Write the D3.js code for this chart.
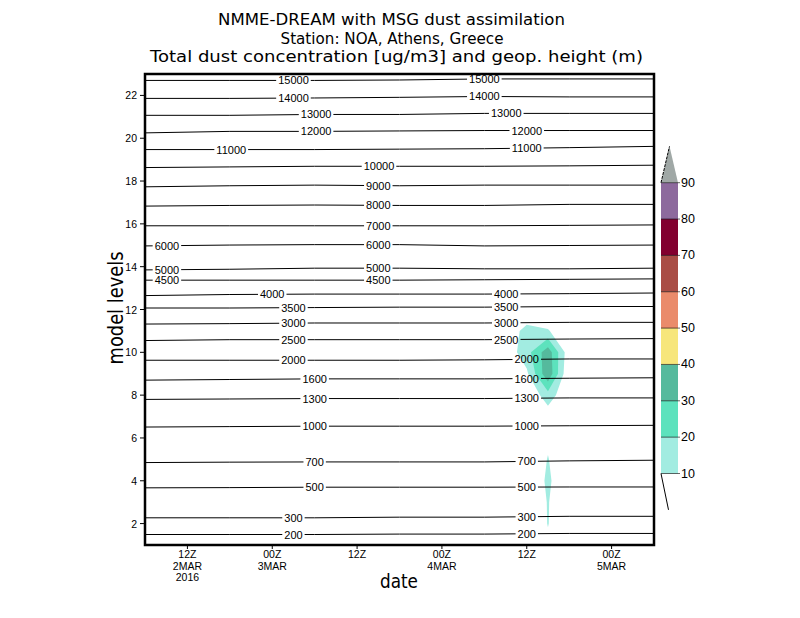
<!DOCTYPE html>
<html lang="en">
<head>
  <meta charset="UTF-8">
  <title>NMME-DREAM dust cross-section, Athens</title>
  <script src="https://d3js.org/d3.v7.min.js"></script>
  <style>
    body { margin: 0; background: white; }
    svg { display: block; font-family: "Liberation Sans", sans-serif; }
  </style>
</head>
<body>
  <svg id="chart" width="800" height="618"></svg>

  <script>
    // ---- data ----
    const titleLines = [
      "NMME-DREAM with MSG dust assimilation",
      "Station: NOA, Athens, Greece",
      "Total dust concentration [ug/m3] and geop. height (m)"
    ];

    // hours after 06Z 2 MAR 2016
    const tickHours = [6, 18, 30, 42, 54, 66];
    const tickLabels = [["12Z", "2MAR", "2016"], ["00Z", "3MAR"], ["12Z"], ["00Z", "4MAR"], ["12Z"], ["00Z", "5MAR"]];
    const levelTicks = [2, 4, 6, 8, 10, 12, 14, 16, 18, 20, 22];

    // geopotential height contours: model level of each contour at sampleHours
    const sampleHours = [0, 12, 24, 36, 48, 60, 72];
    const heightValues = [15000, 14000, 13000, 12000, 11000, 10000, 9000, 8000, 7000, 6000, 5000, 4500,
                          4000, 3500, 3000, 2500, 2000, 1600, 1300, 1000, 700, 500, 300, 200];
    const heightLevels = [
      [22.70, 22.70, 22.70, 22.72, 22.77, 22.77, 22.77],
      [21.86, 21.86, 21.88, 21.91, 21.95, 21.93, 21.93],
      [21.07, 21.07, 21.11, 21.11, 21.16, 21.16, 21.16],
      [20.25, 20.32, 20.32, 20.34, 20.36, 20.36, 20.36],
      [19.47, 19.47, 19.47, 19.49, 19.51, 19.56, 19.62],
      [18.63, 18.66, 18.69, 18.69, 18.69, 18.71, 18.74],
      [17.73, 17.78, 17.81, 17.78, 17.81, 17.81, 17.81],
      [16.83, 16.86, 16.88, 16.86, 16.86, 16.91, 16.91],
      [15.91, 15.91, 15.91, 15.91, 15.91, 15.93, 15.95],
      [14.97, 15.01, 15.03, 15.03, 14.97, 14.99, 15.01],
      [13.85, 13.88, 13.93, 13.93, 13.90, 13.90, 13.93],
      [13.37, 13.37, 13.37, 13.37, 13.39, 13.41, 13.43],
      [12.65, 12.70, 12.72, 12.72, 12.72, 12.74, 12.77],
      [12.07, 12.07, 12.09, 12.11, 12.11, 12.14, 12.14],
      [11.32, 11.34, 11.37, 11.37, 11.37, 11.40, 11.40],
      [10.55, 10.59, 10.59, 10.59, 10.59, 10.62, 10.64],
      [9.63, 9.63, 9.63, 9.63, 9.65, 9.69, 9.69],
      [8.70, 8.73, 8.76, 8.76, 8.76, 8.79, 8.81],
      [7.80, 7.82, 7.84, 7.84, 7.84, 7.87, 7.87],
      [6.51, 6.53, 6.55, 6.55, 6.55, 6.57, 6.59],
      [4.85, 4.87, 4.88, 4.88, 4.88, 4.93, 4.96],
      [3.67, 3.68, 3.70, 3.70, 3.70, 3.71, 3.71],
      [2.27, 2.27, 2.27, 2.30, 2.30, 2.34, 2.34],
      [1.49, 1.49, 1.49, 1.51, 1.51, 1.54, 1.54]
    ];
    // where the contour labels sit (hours)
    const heightLabelHours = [
      [21, 48], [21, 48], [24.2, 51.1], [24.2, 54], [12.2, 54], [33.1], [33], [33], [33],
      [3.1, 33], [3.1, 33], [3.1, 33], [18, 51.1], [21, 51.1], [21, 51.1], [21, 51.1],
      [21, 54], [24, 54], [24, 54], [24, 54], [24, 54], [24, 54], [21, 54], [21, 54]
    ];

    // dust concentration (ug/m3) on a 3-hourly grid, rows = model levels 1..13
    const dustHours = [48, 51, 54, 57, 60, 63];
    const dustLevels = [1, 2, 3, 4, 5, 6, 7, 8, 9, 10, 11, 12, 13];
    const dustValues = [
      [0, 0, 0, 8, 0, 0],
      [0, 0, 0, 10.4, 0, 0],
      [0, 0, 0, 10.6, 0, 0],
      [0, 0, 0, 12, 0, 0],
      [0, 0, 0, 10.5, 0, 0],
      [0, 0, 0, 8, 0, 0],
      [0, 0, 0, 4, 0, 0],
      [0, 0, 0, 16, 0, 0],
      [0, 0, 8, 38, 0, 0],
      [0, 3, 16, 36, 3, 0],
      [0, 2, 14, 11, 0, 0],
      [0, 0, 0, 0, 0, 0],
      [0, 0, 0, 0, 0, 0]
    ];
    const dustThresholds = [10, 20, 30, 40, 50, 60, 70, 80, 90];
    const dustColors = ["#a2ece1", "#5de2bd", "#55ba9d", "#f7e67b", "#ea8b6b", "#a94d45", "#82002f", "#8d6a9d", "#a0a8a6"];

    // ---- layout ----
    const svg = d3.select("#chart");
    const plot = { left: 145, right: 654, top: 74, bottom: 545 };

    const x = d3.scaleLinear().domain([0, 72]).range([plot.left, plot.right]);
    const y = d3.scaleLinear().domain([1, 23]).range([plot.bottom, plot.top]);

    // clip everything inside the frame
    svg.append("clipPath").attr("id", "plotClip")
      .append("rect")
      .attr("x", plot.left).attr("y", plot.top)
      .attr("width", plot.right - plot.left).attr("height", plot.bottom - plot.top);

    // ---- dust shading (d3.contours on the grid) ----
    const nx = dustHours.length, ny = dustLevels.length;
    const gridHour = d3.scaleLinear().domain([0.5, nx - 0.5]).range([dustHours[0], dustHours[nx - 1]]);
    const gridLevel = d3.scaleLinear().domain([0.5, ny - 0.5]).range([dustLevels[0], dustLevels[ny - 1]]);
    const gridToScreen = d3.geoTransform({
      point(px, py) { this.stream.point(x(gridHour(px)), y(gridLevel(py))); }
    });
    const dustPath = d3.geoPath(gridToScreen);
    const dustBands = d3.contours().size([nx, ny]).thresholds(dustThresholds)(dustValues.flat());

    svg.append("g").attr("clip-path", "url(#plotClip)")
      .selectAll("path")
      .data(dustBands)
      .join("path")
      .attr("d", dustPath)
      .attr("fill", (d, i) => dustColors[i])
      .attr("stroke", "none");

    // ---- geopotential height contours with labels ----
    const mask = svg.append("mask").attr("id", "labelGaps");
    mask.append("rect").attr("x", 0).attr("y", 0).attr("width", 800).attr("height", 618).attr("fill", "white");

    const contourLine = d3.line()
      .x((d, i) => x(sampleHours[i]))
      .y(d => y(d));

    svg.append("g")
      .attr("clip-path", "url(#plotClip)")
      .append("g")
      .attr("mask", "url(#labelGaps)")
      .selectAll("path")
      .data(heightLevels)
      .join("path")
      .attr("d", contourLine)
      .attr("fill", "none")
      .attr("stroke", "black")
      .attr("stroke-width", 1);

    const levelAt = (levels, h) => d3.scaleLinear().domain(sampleHours).range(levels)(h);
    const labelData = [];
    heightValues.forEach((v, k) => {
      heightLabelHours[k].forEach(h => labelData.push({ text: String(v), h, lev: levelAt(heightLevels[k], h) }));
    });

    const labels = svg.append("g")
      .selectAll("text")
      .data(labelData)
      .join("text")
      .attr("x", d => x(d.h))
      .attr("y", d => y(d.lev))
      .attr("text-anchor", "middle")
      .attr("dominant-baseline", "central")
      .attr("font-size", 11)
      .text(d => d.text);

    labels.each(function (d) {
      const w = this.getComputedTextLength();
      mask.append("rect")
        .attr("x", x(d.h) - w / 2 - 2)
        .attr("y", y(d.lev) - 5)
        .attr("width", w + 4)
        .attr("height", 10)
        .attr("fill", "black");
    });

    // ---- axes ----
    const yTicks = svg.append("g");
    yTicks.selectAll("line").data(levelTicks).join("line")
      .attr("x1", plot.left - 5).attr("x2", plot.left)
      .attr("y1", d => y(d)).attr("y2", d => y(d))
      .attr("stroke", "black").attr("stroke-width", 1);
    yTicks.selectAll("text").data(levelTicks).join("text")
      .attr("x", plot.left - 8)
      .attr("y", d => y(d))
      .attr("text-anchor", "end")
      .attr("dominant-baseline", "central")
      .attr("font-size", 10.5)
      .text(d => d);

    const xTicks = svg.append("g");
    xTicks.selectAll("line").data(tickHours).join("line")
      .attr("x1", d => x(d)).attr("x2", d => x(d))
      .attr("y1", plot.bottom).attr("y2", plot.bottom + 4)
      .attr("stroke", "black").attr("stroke-width", 1);
    xTicks.selectAll("text").data(tickHours).join("text")
      .attr("x", d => x(d))
      .attr("y", plot.bottom + 13)
      .attr("text-anchor", "middle")
      .attr("font-size", 10.5)
      .selectAll("tspan")
      .data((d, i) => tickLabels[i])
      .join("tspan")
      .attr("x", function () { return this.parentNode.getAttribute("x"); })
      .attr("dy", (d, j) => j === 0 ? 0 : 11.5)
      .text(d => d);

    // frame
    svg.append("rect")
      .attr("x", plot.left).attr("y", plot.top)
      .attr("width", plot.right - plot.left).attr("height", plot.bottom - plot.top)
      .attr("fill", "none").attr("stroke", "black").attr("stroke-width", 2.5);

    // axis titles
    svg.append("text")
      .attr("transform", "translate(123,308) rotate(-90)")
      .attr("text-anchor", "middle")
      .attr("font-family", "DejaVu Sans, sans-serif")
      .attr("font-size", 21)
      .attr("textLength", 113).attr("lengthAdjust", "spacingAndGlyphs")
      .text("model levels");

    svg.append("text")
      .attr("x", 399).attr("y", 588)
      .attr("text-anchor", "middle")
      .attr("font-family", "DejaVu Sans, sans-serif")
      .attr("font-size", 20)
      .attr("textLength", 38).attr("lengthAdjust", "spacingAndGlyphs")
      .text("date");

    // title
    const titleX = [391.5, 392, 396.5];
    const titleY = [25, 43.5, 62];
    const titleW = [347, 223, 493];
    svg.append("g").selectAll("text").data(titleLines).join("text")
      .attr("x", (d, i) => titleX[i])
      .attr("y", (d, i) => titleY[i])
      .attr("text-anchor", "middle")
      .attr("font-family", "DejaVu Sans, sans-serif")
      .attr("font-size", 15.5)
      .attr("textLength", (d, i) => titleW[i])
      .attr("lengthAdjust", "spacingAndGlyphs")
      .text(d => d);

    // ---- colour bar ----
    const cb = d3.scaleLinear().domain([10, 90]).range([473.5, 182.7]);
    const cbLeft = 661, cbRight = 678, cbMid = (cbLeft + cbRight) / 2;
    const bar = svg.append("g");
    bar.selectAll("rect")
      .data(dustThresholds.slice(0, -1))
      .join("rect")
      .attr("x", cbLeft)
      .attr("y", d => cb(d + 10))
      .attr("width", cbRight - cbLeft)
      .attr("height", d => cb(d) - cb(d + 10))
      .attr("fill", (d, i) => dustColors[i]);
    bar.append("path")
      .attr("d", `M${cbLeft},${cb(90)}L${cbRight},${cb(90)}L${cbMid},${cb(100)}Z`)
      .attr("fill", dustColors[dustColors.length - 1]);
    bar.append("line")
      .attr("x1", cbLeft).attr("y1", cb(90)).attr("x2", cbMid).attr("y2", cb(100))
      .attr("stroke", "black").attr("stroke-width", 1).attr("stroke-dasharray", "3,1");
    bar.append("line")
      .attr("x1", cbLeft).attr("y1", cb(10)).attr("x2", cbMid - 1).attr("y2", cb(0))
      .attr("stroke", "black").attr("stroke-width", 1);
    bar.selectAll("line.tick").data(dustThresholds).join("line")
      .attr("class", "tick")
      .attr("x1", cbLeft).attr("x2", cbRight + 2)
      .attr("y1", d => cb(d)).attr("y2", d => cb(d))
      .attr("stroke", "black").attr("stroke-width", 0.6);
    bar.selectAll("text").data(dustThresholds).join("text")
      .attr("x", cbRight + 3)
      .attr("y", d => cb(d))
      .attr("dominant-baseline", "central")
      .attr("font-size", 12.5)
      .text(d => d);
  </script>
</body>
</html>
